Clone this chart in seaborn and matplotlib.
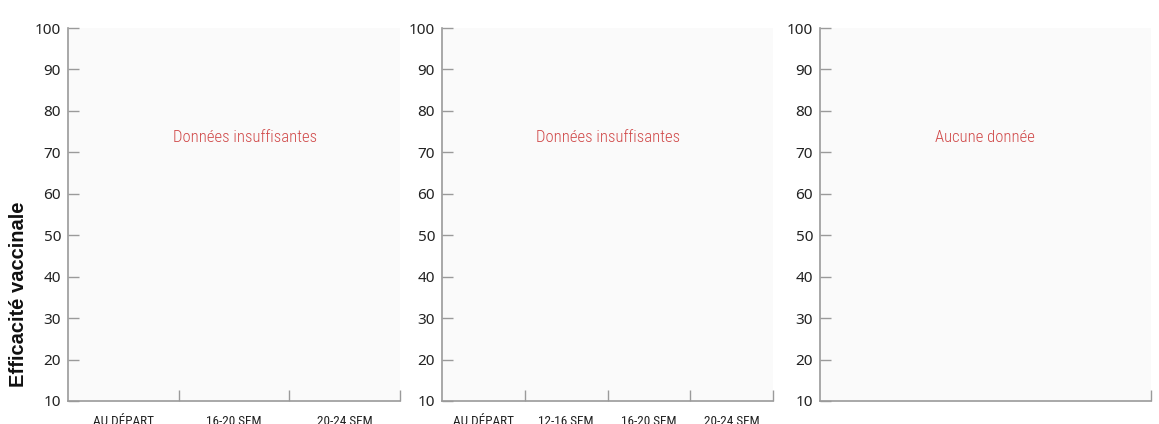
import matplotlib
matplotlib.use("Agg")
import matplotlib.pyplot as plt
import seaborn as sns
import numpy as np
from matplotlib import font_manager

# ---- data ----
panel1_categories = ["AU DÉPART", "16-20 SEM", "20-24 SEM"]
panel2_categories = ["AU DÉPART", "12-16 SEM", "16-20 SEM", "20-24 SEM"]
panel3_categories = []
panel_messages = ["Données insuffisantes", "Données insuffisantes", "Aucune donnée"]
y_ticks = [10, 20, 30, 40, 50, 60, 70, 80, 90, 100]
y_label = "Efficacité vaccinale"

sns.set_theme(style="white")
names = {f.name for f in font_manager.fontManager.ttflist}
narrow = "DejaVu Sans"
condensed_found = False
for cand in ["Roboto Condensed", "Liberation Sans Narrow", "Noto Sans Condensed",
             "Open Sans Condensed", "DejaVu Sans Condensed", "Inter Condensed"]:
    if cand in names:
        narrow = cand
        condensed_found = True
        break
plt.rcParams['font.family'] = ['Noto Sans', 'DejaVu Sans']

W, H = 1159, 424
fig = plt.figure(figsize=(W / 100, H / 100), dpi=100)
fig.patch.set_facecolor("white")

boxes = [(68, 400), (442, 773), (820, 1151)]
top, bottom = 28, 401
cats_list = [panel1_categories, panel2_categories, panel3_categories]
msg_x = [0.533, 0.502, 0.498]
spine_col = "#9a9a9a"
xlab_size = 9.5 if condensed_found else 8.0
msg_size = 12 if condensed_found else 11.0

for (x0, x1), cats, msg, mx in zip(boxes, cats_list, panel_messages, msg_x):
    ax = fig.add_axes([x0 / W, 1 - bottom / H, (x1 - x0) / W, (bottom - top) / H])
    ax.set_facecolor("#fafafa")
    n = len(cats)
    if n:
        sns.pointplot(x=list(cats), y=[np.nan] * n, ax=ax, order=cats)
        ax.set_xlim(-0.5, n - 0.5)
        ax.set_xticks(range(n))
        ax.set_xticklabels(cats, fontfamily=narrow, fontsize=xlab_size, color="#222222")
        ax.set_xticks(np.arange(0.5, n, 1.0), minor=True)
    else:
        ax.set_xlim(0, 1)
        ax.set_xticks([])
        ax.set_xticks([1.0], minor=True)
    ax.tick_params(axis="x", which="major", length=0, pad=10, bottom=True)
    ax.tick_params(axis="x", which="minor", direction="in", length=8, width=1,
                   color=spine_col, bottom=True)
    ax.set_ylim(10, 100)
    ax.set_yticks(y_ticks)
    ax.set_yticklabels([str(v) for v in y_ticks], fontsize=11, color="#222222")
    ax.tick_params(axis="y", direction="in", length=8, width=1, color=spine_col, pad=5, left=True)
    for s in ["top", "right"]:
        ax.spines[s].set_visible(False)
    for s in ["left", "bottom"]:
        ax.spines[s].set_color(spine_col)
        ax.spines[s].set_linewidth(1.2)
    ax.set_xlabel("")
    ax.set_ylabel("")
    ax.text(mx, 73.5, msg, transform=ax.get_yaxis_transform(), ha="center", va="center",
            color="#d04848", fontsize=msg_size, fontfamily=narrow, fontweight="light")

fig.text(19 / W, 1 - 294 / H, y_label, rotation=90, ha="center", va="center",
         fontsize=14.5, fontweight="bold", color="#111111",
         family=['Liberation Sans', 'DejaVu Sans'])

fig.savefig("out.png", dpi=100, facecolor="white")
